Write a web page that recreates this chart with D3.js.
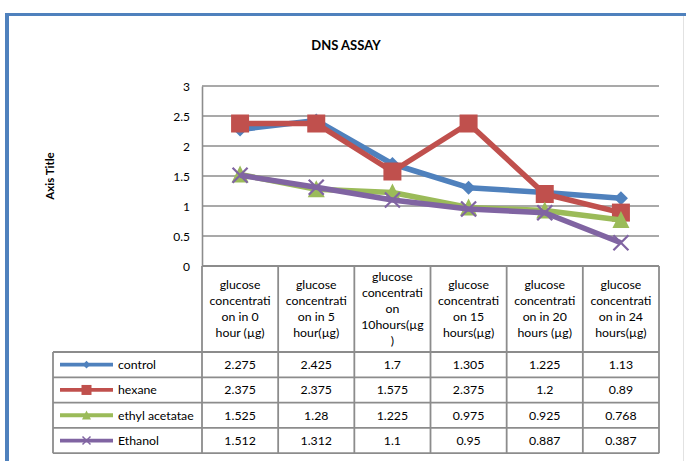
<!DOCTYPE html>
<html><head><meta charset="utf-8">
<script src="https://cdn.jsdelivr.net/npm/d3@7"></script>
<style>
html,body{margin:0;padding:0;background:#fff;}
svg{display:block;font-family:Lato,"Open Sans",sans-serif;}
</style></head>
<body><svg id="c" width="686" height="461"></svg>
<script>
const title = "DNS ASSAY";
const yAxisTitle = "Axis Title";
const categories = ["0 hour", "5 hour", "10 hours", "15 hours", "20 hours", "24 hours"];
const headerLines = [
  ["glucose","concentrati","on in 0","hour (µg)"],
  ["glucose","concentrati","on in 5","hour(µg)"],
  ["glucose","concentrati","on","10hours(µg",")"],
  ["glucose","concentrati","on 15","hours(µg)"],
  ["glucose","concentrati","on in 20","hours (µg)"],
  ["glucose","concentrati","on in 24","hours(µg)"]
];
const seriesNames = ["control", "hexane", "ethyl acetatae", "Ethanol"];
const control = [2.275, 2.425, 1.7, 1.305, 1.225, 1.13];
const hexane = [2.375, 2.375, 1.575, 2.375, 1.2, 0.89];
const ethylAcetate = [1.525, 1.28, 1.225, 0.975, 0.925, 0.768];
const ethanol = [1.512, 1.312, 1.1, 0.95, 0.887, 0.387];
const tableText = [
  ["2.275","2.425","1.7","1.305","1.225","1.13"],
  ["2.375","2.375","1.575","2.375","1.2","0.89"],
  ["1.525","1.28","1.225","0.975","0.925","0.768"],
  ["1.512","1.312","1.1","0.95","0.887","0.387"]
];
const yTicks = [0, 0.5, 1, 1.5, 2, 2.5, 3];

const seriesValues = [control, hexane, ethylAcetate, ethanol];
const colors = ["#4F81BD", "#C0504D", "#9BBB59", "#8064A2"];
const markerTypes = ["diamond", "square", "triangle", "x"];

const svg = d3.select("#c");
const gridColor = "#8c8c8c";
const fs = 12.3;

// frame
svg.append("rect").attr("x",0).attr("y",0).attr("width",686).attr("height",461).attr("fill","#fff");
svg.append("line").attr("x1",683.5).attr("x2",683.5).attr("y1",16).attr("y2",461).attr("stroke","#e2e2e2").attr("stroke-width",1);
svg.append("rect").attr("x",5).attr("y",13).attr("width",681).attr("height",3).attr("fill","#4F81BD");
svg.append("rect").attr("x",5).attr("y",13).attr("width",4).attr("height",448).attr("fill","#4F81BD");

const x = d3.scaleBand().domain(categories).range([202, 659]).paddingInner(0).paddingOuter(0);
const y = d3.scaleLinear().domain([0, 3]).range([266, 86]);
const cx = c => x(c) + x.bandwidth()/2;

// title
svg.append("text").attr("x",346).attr("y",50).attr("text-anchor","middle")
  .attr("font-size",13).attr("font-weight","bold").attr("fill","#000").text(title);

// axis title
svg.append("text").attr("transform","translate(54,176) rotate(-90)").attr("text-anchor","middle")
  .attr("font-size",11.5).attr("font-weight","bold").attr("fill","#000").text(yAxisTitle);

// gridlines
svg.append("g").selectAll("line").data(yTicks.filter(t=>t>0)).join("line")
  .attr("x1",202).attr("x2",659).attr("y1",d=>y(d)).attr("y2",d=>y(d))
  .attr("stroke",gridColor).attr("stroke-width",1.6);

// y axis
const yAxis = d3.axisLeft(y).tickValues(yTicks).tickFormat(d3.format("")).tickSize(0).tickPadding(12);
const ya = svg.append("g").attr("transform","translate(202,0)").call(yAxis);
ya.select(".domain").attr("stroke",gridColor).attr("stroke-width",1.6);
ya.selectAll("text").attr("font-size",12).attr("fill","#000").attr("font-family","Lato,sans-serif").attr("dy","0.35em");

// x axis line
svg.append("line").attr("x1",202).attr("x2",659).attr("y1",266).attr("y2",266).attr("stroke",gridColor).attr("stroke-width",1.8);

// table
const rowTop = 352, rowH = 25.3, legendLeft = 53;
const tbl = svg.append("g");
const bounds = categories.map(c=>x(c)).concat([659]);
tbl.selectAll("line.v").data(bounds).join("line").attr("class","v")
  .attr("x1",d=>d).attr("x2",d=>d).attr("y1",266).attr("y2",rowTop+rowH*4)
  .attr("stroke",gridColor).attr("stroke-width",1.8);
tbl.append("line").attr("x1",legendLeft).attr("x2",legendLeft).attr("y1",rowTop).attr("y2",rowTop+rowH*4)
  .attr("stroke",gridColor).attr("stroke-width",1.8);
tbl.selectAll("line.h").data(d3.range(5)).join("line").attr("class","h")
  .attr("x1",legendLeft).attr("x2",659).attr("y1",i=>rowTop+i*rowH).attr("y2",i=>rowTop+i*rowH)
  .attr("stroke",gridColor).attr("stroke-width",1.8);

// header text
categories.forEach((c,i)=>{
  const lines = headerLines[i];
  const lh = 16;
  const mid = (266+rowTop)/2;
  const start = mid - (lines.length-1)*lh/2;
  tbl.append("g").selectAll("text").data(lines).join("text")
    .attr("x",cx(c)).attr("y",(d,j)=>start+j*lh).attr("dy","0.35em")
    .attr("text-anchor","middle").attr("font-size",fs).attr("fill","#000").text(d=>d);
});

// table values
tableText.forEach((row,r)=>{
  tbl.append("g").selectAll("text").data(row).join("text")
    .attr("x",(d,i)=>cx(categories[i])).attr("y",rowTop+r*rowH+rowH/2).attr("dy","0.35em")
    .attr("text-anchor","middle").attr("font-size",fs).attr("fill","#000").text(d=>d);
});

function marker(g, type, px, py, s, color){
  if(type==="diamond"){
    g.append("path").attr("d",`M${px},${py-s}L${px+s},${py}L${px},${py+s}L${px-s},${py}Z`).attr("fill",color);
  } else if(type==="square"){
    g.append("rect").attr("x",px-s).attr("y",py-s).attr("width",2*s).attr("height",2*s).attr("fill",color);
  } else if(type==="triangle"){
    g.append("path").attr("d",`M${px},${py-s*1.05}L${px+s},${py+s*0.95}L${px-s},${py+s*0.95}Z`).attr("fill",color);
  } else {
    g.append("path").attr("d",`M${px-s},${py-s}L${px+s},${py+s}M${px+s},${py-s}L${px-s},${py+s}`)
      .attr("stroke",color).attr("stroke-width",Math.max(1.5,s*0.3)).attr("fill","none");
  }
}

// legend keys
seriesNames.forEach((n,r)=>{
  const yy = rowTop+r*rowH+rowH/2;
  const g = tbl.append("g");
  g.append("line").attr("x1",60).attr("x2",113).attr("y1",yy).attr("y2",yy).attr("stroke",colors[r]).attr("stroke-width",3.8);
  const sz = [3.8,5,4.5,4][r];
  marker(g, markerTypes[r], 86.5, yy, sz, colors[r]);
  g.append("text").attr("x",118).attr("y",yy).attr("dy","0.35em").attr("font-size",fs).attr("fill","#000").text(n);
});

// series
const line = d3.line().x((d,i)=>cx(categories[i])).y(d=>y(d));
const markerSizes = [7, 9, 8.5, 7.5];
seriesValues.forEach((vals,k)=>{
  const g = svg.append("g");
  g.append("path").datum(vals).attr("d",line).attr("fill","none").attr("stroke",colors[k])
    .attr("stroke-width",5.5).attr("stroke-linejoin","round");
  vals.forEach((v,i)=>marker(g, markerTypes[k], cx(categories[i]), y(v), markerSizes[k], colors[k]));
});
</script></body></html>
